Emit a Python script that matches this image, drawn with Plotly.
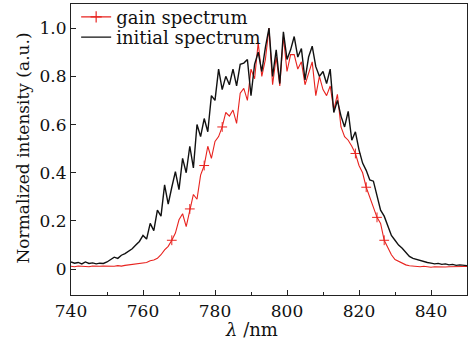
import plotly.graph_objects as go

# ---- data ----
wavelength = list(range(740, 851))

initial_spectrum = [
    0.030, 0.025, 0.028, 0.022, 0.030, 0.024, 0.026, 0.022, 0.025, 0.024,
    0.030, 0.040, 0.050, 0.045, 0.058, 0.065, 0.075, 0.085, 0.100, 0.115,
    0.140, 0.125, 0.190, 0.160, 0.245, 0.220, 0.350, 0.270, 0.340, 0.405,
    0.330, 0.460, 0.400, 0.510, 0.420, 0.600, 0.550, 0.625, 0.570, 0.720,
    0.700, 0.830, 0.745, 0.800, 0.765, 0.830, 0.760, 0.850, 0.855, 0.870,
    0.720, 0.850, 0.900, 0.820, 0.920, 1.000, 0.800, 0.910, 0.770, 0.985,
    0.870, 0.910, 0.965, 0.880, 0.915, 0.785, 0.880, 0.925, 0.840, 0.800,
    0.820, 0.770, 0.830, 0.650, 0.700, 0.635, 0.590, 0.655, 0.535, 0.570,
    0.495, 0.440, 0.410, 0.370, 0.365, 0.300, 0.245, 0.220, 0.177, 0.140,
    0.120, 0.100, 0.087, 0.070, 0.053, 0.045, 0.040, 0.035, 0.030, 0.028,
    0.025, 0.022, 0.024, 0.020, 0.022, 0.018, 0.020, 0.016, 0.018, 0.015,
    0.015,
]

gain_spectrum = [
    0.012, 0.010, 0.013, 0.011, 0.012, 0.010, 0.013, 0.011, 0.012, 0.013,
    0.012, 0.014, 0.012, 0.015, 0.013, 0.016, 0.018, 0.020, 0.022, 0.024,
    0.025, 0.028, 0.035, 0.038, 0.045, 0.060, 0.080, 0.095, 0.120, 0.150,
    0.205, 0.230, 0.177, 0.250, 0.310, 0.290, 0.390, 0.430, 0.510, 0.460,
    0.530, 0.550, 0.590, 0.650, 0.635, 0.660, 0.605, 0.730, 0.750, 0.700,
    0.830, 0.790, 0.940, 0.800, 0.870, 1.000, 0.765, 0.880, 0.760, 0.965,
    0.820, 0.890, 0.890, 0.830, 0.860, 0.765, 0.810, 0.860, 0.720, 0.800,
    0.745, 0.720, 0.760, 0.660, 0.725, 0.590, 0.550, 0.535, 0.510, 0.480,
    0.430, 0.400, 0.340, 0.300, 0.260, 0.215, 0.190, 0.120, 0.090, 0.060,
    0.040, 0.032, 0.025, 0.018, 0.014, 0.012, 0.011, 0.010, 0.012, 0.009,
    0.008, 0.010, 0.009, 0.011, 0.009, 0.010, 0.011, 0.010, 0.012, 0.011,
    0.011,
]

# wavelengths where the gain curve carries a "+" marker
gain_marker_wavelengths = [768, 773, 777, 782, 819, 822, 825, 827]

x_tick_values = [740, 760, 780, 800, 820, 840]
y_tick_values = [0, 0.2, 0.4, 0.6, 0.8, 1.0]
y_tick_labels = ["0", "0.2", "0.4", "0.6", "0.8", "1.0"]

# ---- figure ----
FONT = "DejaVu Serif"
RED = "#e8231f"

mk_x = [w for w in gain_marker_wavelengths]
mk_y = [gain_spectrum[wavelength.index(w)] for w in gain_marker_wavelengths]

fig = go.Figure()

# legend-only entry for the gain spectrum (line + marker)
fig.add_trace(go.Scatter(
    x=[None], y=[None], mode="lines+markers", name="gain spectrum",
    line=dict(color=RED, width=1.2), legend="legend",
    marker=dict(symbol="cross-thin", size=8, line=dict(color=RED, width=1.2)),
))
fig.add_trace(go.Scatter(
    x=wavelength, y=gain_spectrum, mode="lines", showlegend=False,
    line=dict(color=RED, width=1.1),
))
fig.add_trace(go.Scatter(
    x=mk_x, y=mk_y, mode="markers", showlegend=False,
    marker=dict(symbol="cross-thin", size=7, line=dict(color=RED, width=1.0)),
))
fig.add_trace(go.Scatter(
    x=wavelength, y=initial_spectrum, mode="lines", name="initial spectrum",
    line=dict(color="#111111", width=1.4), legend="legend2",
))

axis_common = dict(
    showline=True, linecolor="#222222", linewidth=1.2, mirror=True,
    showgrid=False, zeroline=False, ticks="inside", ticklen=5,
    tickcolor="#222222", tickwidth=1,
    tickfont=dict(family=FONT, size=17, color="#111111"),
)

legend_common = dict(
    x=0.013, xanchor="left", yanchor="middle",
    bgcolor="rgba(0,0,0,0)", borderwidth=0,
    font=dict(family=FONT, size=18, color="#111111"),
    itemwidth=30,
)

fig.update_layout(
    width=476, height=342,
    margin=dict(l=71, r=9, t=4, b=47, autoexpand=False),
    paper_bgcolor="white", plot_bgcolor="white",
    font=dict(family=FONT, size=17, color="#111111"),
    showlegend=True,
    legend=dict(y=0.955, **legend_common),
    legend2=dict(y=0.885, **legend_common),
    xaxis=dict(
        range=[740, 850], tickvals=x_tick_values,
        minor=dict(ticks="inside", dtick=10, ticklen=3, tickcolor="#222222"),
        **axis_common,
    ),
    yaxis=dict(
        range=[-0.107, 1.10], tickvals=y_tick_values, ticktext=y_tick_labels,
        **axis_common,
    ),
    annotations=[
        dict(text="<i>λ</i> /nm", x=0.457, y=-0.12, xref="paper", yref="paper",
             xanchor="center", yanchor="middle", showarrow=False,
             font=dict(family=FONT, size=18, color="#111111")),
        dict(text="Normalized intensity (a.u.)", x=-0.12, y=0.505,
             xref="paper", yref="paper", xanchor="center", yanchor="middle",
             textangle=-90, showarrow=False,
             font=dict(family=FONT, size=17, color="#111111")),
    ],
)

fig.write_html("out.html")
